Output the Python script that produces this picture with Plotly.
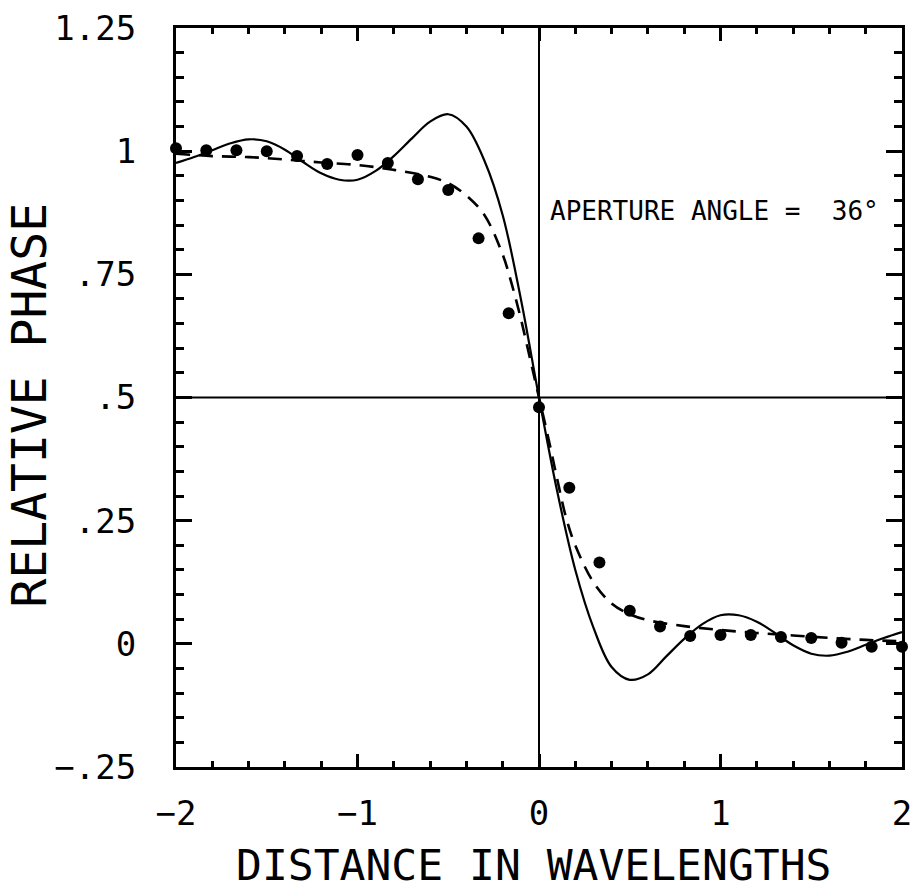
import plotly.graph_objects as go

# ---- data ----
solid_x = [-2.0, -1.9, -1.8, -1.7, -1.6, -1.5, -1.4, -1.3, -1.2, -1.1, -1.0, -0.9, -0.8, -0.7, -0.6,
           -0.5, -0.4, -0.3, -0.2, -0.1, 0.0, 0.1, 0.2, 0.3, 0.4, 0.5, 0.6, 0.7, 0.8, 0.9, 1.0,
           1.1, 1.2, 1.3, 1.4, 1.5, 1.6, 1.7, 1.8, 1.9, 2.0]
solid_y = [0.976, 0.988, 1.002, 1.016, 1.024, 1.020, 1.003, 0.978, 0.955, 0.942, 0.942, 0.960, 0.990,
           1.026, 1.060, 1.075, 1.050, 0.980, 0.870, 0.700, 0.500, 0.310, 0.150, 0.033, -0.047,
           -0.073, -0.062, -0.026, 0.010, 0.040, 0.058, 0.058, 0.045, 0.022, -0.003, -0.020,
           -0.024, -0.016, -0.002, 0.012, 0.024]

dash_x = [-2.0, -1.8, -1.6, -1.4, -1.2, -1.0, -0.8, -0.6, -0.5, -0.4, -0.3, -0.2, -0.15, -0.1, -0.05,
          0.0, 0.05, 0.1, 0.15, 0.2, 0.3, 0.4, 0.5, 0.6, 0.8, 1.0, 1.2, 1.4, 1.6, 1.8, 2.0]
dash_y = [0.995, 0.990, 0.988, 0.983, 0.977, 0.972, 0.962, 0.948, 0.935, 0.910, 0.870, 0.790, 0.730,
          0.660, 0.580, 0.500, 0.420, 0.335, 0.255, 0.200, 0.125, 0.082, 0.060, 0.048, 0.036,
          0.028, 0.022, 0.017, 0.012, 0.008, 0.005]

dot_x = [-2.0, -1.833, -1.667, -1.5, -1.333, -1.167, -1.0, -0.833, -0.667, -0.5, -0.333, -0.167, 0.0,
         0.167, 0.333, 0.5, 0.667, 0.833, 1.0, 1.167, 1.333, 1.5, 1.667, 1.833, 2.0]
dot_y = [1.006, 1.002, 1.002, 1.000, 0.990, 0.974, 0.992, 0.976, 0.943, 0.921, 0.823, 0.671, 0.480,
         0.317, 0.165, 0.067, 0.035, 0.016, 0.018, 0.018, 0.014, 0.012, 0.002, -0.006, -0.006]

x_tickvals = [-2, -1, 0, 1, 2]
x_ticktext = ["\u22122", "\u22121", "0", "1", "2"]
y_tickvals = [-0.25, 0, 0.25, 0.5, 0.75, 1, 1.25]
y_ticktext = ["\u2212.25", "0", ".25", ".5", ".75", "1", "1.25"]

FONT = "DejaVu Sans Mono"
INK = "black"

fig = go.Figure()
fig.add_trace(go.Scatter(x=solid_x, y=solid_y, mode="lines",
                         line=dict(color=INK, width=2.2, shape="spline", smoothing=1.0),
                         showlegend=False))
fig.add_trace(go.Scatter(x=dash_x, y=dash_y, mode="lines",
                         line=dict(color=INK, width=2.6, dash="14px,9px", shape="spline", smoothing=1.0),
                         showlegend=False))
fig.add_trace(go.Scatter(x=dot_x, y=dot_y, mode="markers",
                         marker=dict(color=INK, size=12), cliponaxis=False,
                         showlegend=False))

# crosshair lines
fig.add_shape(type="line", xref="x", yref="paper", x0=0, x1=0, y0=0, y1=1,
              line=dict(color=INK, width=2))
fig.add_shape(type="line", xref="paper", yref="y", x0=0, x1=1, y0=0.5, y1=0.5,
              line=dict(color=INK, width=2))

fig.add_annotation(x=0.05, y=0.878, xref="x", yref="y", text="APERTURE ANGLE =  36\u00b0",
                   showarrow=False, xanchor="left", yanchor="middle",
                   font=dict(family=FONT, size=26, color=INK))

fig.add_annotation(x=0.492, y=-0.132, xref="paper", yref="paper",
                   text="DISTANCE IN WAVELENGTHS", showarrow=False,
                   xanchor="center", yanchor="middle",
                   font=dict(family=FONT, size=43, color=INK))
fig.add_annotation(x=-0.203, y=0.49, xref="paper", yref="paper",
                   text="RELATIVE PHASE", showarrow=False, textangle=-90,
                   xanchor="center", yanchor="middle",
                   font=dict(family=FONT, size=48, color=INK))

fig.update_layout(
    width=920, height=894,
    margin=dict(l=176, r=8, t=28, b=127),
    paper_bgcolor="white", plot_bgcolor="white",
    xaxis=dict(range=[-2, 2], tickvals=x_tickvals, ticktext=x_ticktext,
               showgrid=False, zeroline=False, showline=True, linecolor=INK, linewidth=3,
               mirror="allticks", ticks="inside", ticklen=13, tickwidth=2.5, tickcolor=INK,
               minor=dict(dtick=0.2, ticks="inside", ticklen=6, tickwidth=2.5, tickcolor=INK,
                          showgrid=False),
               ticklabelstandoff=14,
               tickfont=dict(family=FONT, size=34, color=INK)),
    yaxis=dict(range=[-0.25, 1.25], tickvals=y_tickvals, ticktext=y_ticktext,
               showgrid=False, zeroline=False, showline=True, linecolor=INK, linewidth=3,
               mirror="allticks", ticks="inside", ticklen=16, tickwidth=2.5, tickcolor=INK,
               minor=dict(dtick=0.05, ticks="inside", ticklen=8, tickwidth=2.5, tickcolor=INK,
                          showgrid=False),
               ticklabelstandoff=30,
               tickfont=dict(family=FONT, size=34, color=INK)),
)

fig.write_html("out.html")
